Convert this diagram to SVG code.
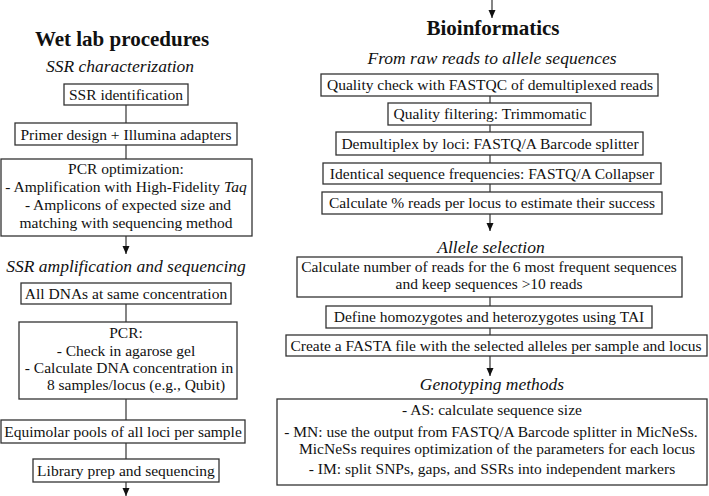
<svg xmlns="http://www.w3.org/2000/svg" width="709" height="496" viewBox="0 0 709 496">
<style>
text{font-family:"Liberation Serif","Times New Roman",serif;fill:#111;text-anchor:middle}
.t{font-size:15.5px}
.h{font-size:21px;font-weight:bold}
.s{font-size:17.5px;font-style:italic}
.b{fill:#fff;stroke:#333;stroke-width:1.3}
.c line{stroke:#333;stroke-width:1.2}
.a{marker-end:url(#ah)}
</style>
<defs>
<marker id="ah" viewBox="0 0 8 10" refX="8" refY="5" markerWidth="8" markerHeight="10" markerUnits="userSpaceOnUse" orient="auto">
<path d="M0,1.5 L8,5 L0,8.5 Z" fill="#111"/>
</marker>
</defs>
<rect width="709" height="496" fill="#fff"/>

<g id="connectors" class="c">
<line x1="126" y1="105" x2="126" y2="123"/>
<line x1="126" y1="145" x2="126" y2="159"/>
<line class="a" x1="126" y1="236" x2="126" y2="254"/>
<line x1="126" y1="304" x2="126" y2="322"/>
<line x1="126" y1="399" x2="126" y2="420"/>
<line x1="126" y1="443" x2="126" y2="459"/>
<line class="a" x1="126" y1="482" x2="126" y2="496"/>
<line class="a" x1="492" y1="0" x2="492" y2="18"/>
<line x1="490" y1="96" x2="490" y2="103"/>
<line x1="490" y1="125" x2="490" y2="132"/>
<line x1="490" y1="155" x2="490" y2="163"/>
<line x1="490" y1="184" x2="490" y2="192"/>
<line class="a" x1="490" y1="214" x2="490" y2="231"/>
<line x1="490" y1="297" x2="490" y2="306"/>
<line x1="490" y1="328" x2="490" y2="335"/>
<line class="a" x1="490" y1="356" x2="490" y2="376"/>
</g>

<g id="titles">
<text class="h" x="122" y="46">Wet lab procedures</text>
<text class="s" x="120" y="72">SSR characterization</text>
<text class="s" x="126" y="272">SSR amplification and sequencing</text>
<text class="h" x="493" y="35">Bioinformatics</text>
<text class="s" x="492" y="64">From raw reads to allele sequences</text>
<text class="s" x="491" y="253">Allele selection</text>
<text class="s" x="492" y="390">Genotyping methods</text>
</g>

<g id="ssr-identification">
<rect class="b" x="64" y="84" width="124" height="21"/>
<text class="t" x="126" y="100">SSR identification</text>
</g>
<g id="primer-design">
<rect class="b" x="15" y="123" width="222" height="22"/>
<text class="t" x="126" y="140">Primer design + Illumina adapters</text>
</g>
<g id="pcr-optimization">
<rect class="b" x="1" y="159" width="251" height="77"/>
<text class="t" x="126" y="174">PCR optimization:</text>
<text class="t" x="126" y="192">- Amplification with High-Fidelity <tspan font-style="italic">Taq</tspan></text>
<text class="t" x="128" y="210">- Amplicons of expected size and</text>
<text class="t" x="126" y="228">matching with sequencing method</text>
</g>
<g id="all-dnas">
<rect class="b" x="21" y="283" width="210" height="21"/>
<text class="t" x="126" y="299">All DNAs at same concentration</text>
</g>
<g id="pcr">
<rect class="b" x="19" y="322" width="218" height="77"/>
<text class="t" x="126" y="338">PCR:</text>
<text class="t" x="126" y="356">- Check in agarose gel</text>
<text class="t" x="129" y="373">- Calculate DNA concentration in</text>
<text class="t" x="136" y="390">8 samples/locus (e.g., Qubit)</text>
</g>
<g id="equimolar">
<rect class="b" x="1" y="420" width="244" height="23"/>
<text class="t" x="123" y="437">Equimolar pools of all loci per sample</text>
</g>
<g id="library">
<rect class="b" x="33" y="459" width="186" height="23"/>
<text class="t" x="126" y="476">Library prep and sequencing</text>
</g>

<g id="fastqc">
<rect class="b" x="321" y="74" width="337" height="22"/>
<text class="t" x="490" y="90">Quality check with FASTQC of demultiplexed reads</text>
</g>
<g id="trimmomatic">
<rect class="b" x="388" y="103" width="203" height="22"/>
<text class="t" x="490" y="119">Quality filtering: Trimmomatic</text>
</g>
<g id="demultiplex">
<rect class="b" x="336" y="132" width="307" height="23"/>
<text class="t" x="490" y="149">Demultiplex by loci: FASTQ/A Barcode splitter</text>
</g>
<g id="collapser">
<rect class="b" x="323" y="163" width="338" height="21"/>
<text class="t" x="492" y="179">Identical sequence frequencies: FASTQ/A Collapser</text>
</g>
<g id="reads-per-locus">
<rect class="b" x="322" y="192" width="340" height="22"/>
<text class="t" x="492" y="208">Calculate % reads per locus to estimate their success</text>
</g>
<g id="count-reads">
<rect class="b" x="297" y="257" width="385" height="40"/>
<text class="t" x="489" y="272">Calculate number of reads for the 6 most frequent sequences</text>
<text class="t" x="489" y="289">and keep sequences &gt;10 reads</text>
</g>
<g id="define-zygotes">
<rect class="b" x="326" y="306" width="326" height="22"/>
<text class="t" x="489" y="322">Define homozygotes and heterozygotes using TAI</text>
</g>
<g id="fasta">
<rect class="b" x="286" y="335" width="421" height="21"/>
<text class="t" x="496" y="351">Create a FASTA file with the selected alleles per sample and locus</text>
</g>
<g id="genotyping">
<rect class="b" x="277" y="399" width="430" height="86"/>
<text class="t" x="492" y="415">- AS: calculate sequence size</text>
<text class="t" x="491" y="437">- MN: use the output from FASTQ/A Barcode splitter in MicNeSs.</text>
<text class="t" x="497" y="454">MicNeSs requires optimization of the parameters for each locus</text>
<text class="t" x="492" y="474">- IM: split SNPs, gaps, and SSRs into independent markers</text>
</g>
</svg>
